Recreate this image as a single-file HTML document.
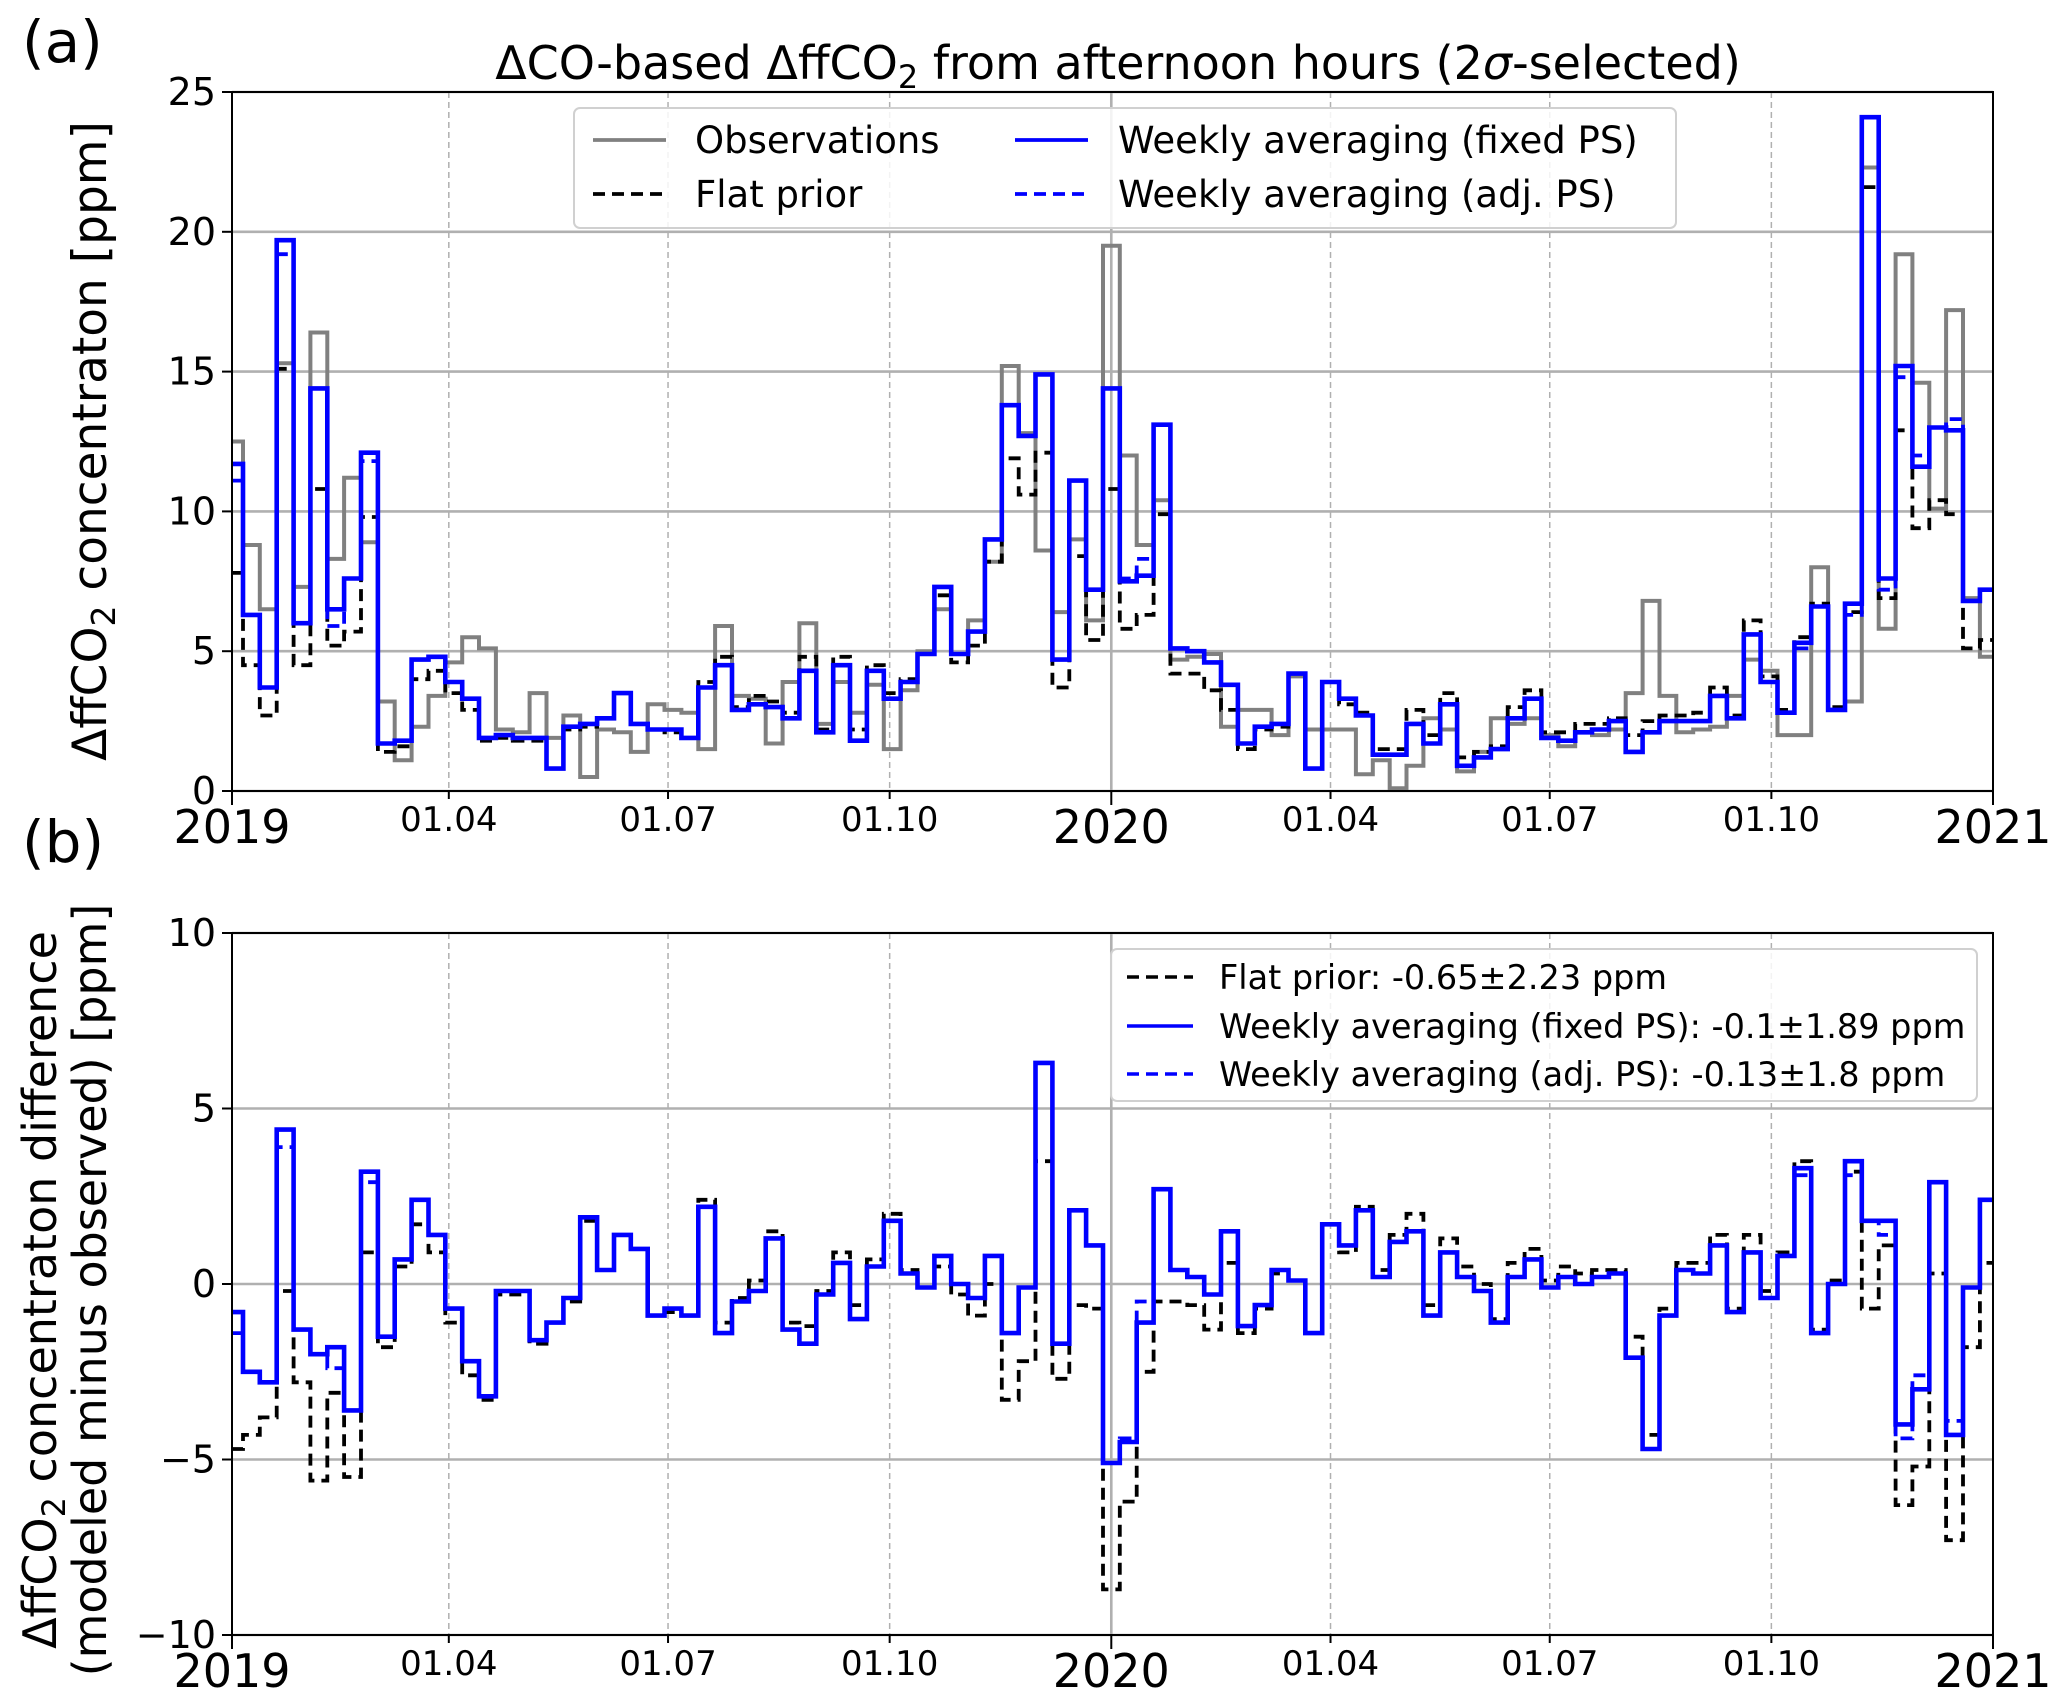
<!DOCTYPE html>
<html><head><meta charset="utf-8"><style>
body{margin:0;background:#fff}
svg{display:block;font-family:"DejaVu Sans","Liberation Sans",sans-serif}
</style></head><body>
<svg id="chart" width="2067" height="1695" viewBox="0 0 2067 1695" xmlns="http://www.w3.org/2000/svg"></svg>
<script>
// weekly bins (bin k spans week k-0.35 .. k+0.65 from 2019-01-01)
const observations = [12.5,8.8,6.5,15.3,7.3,16.4,8.3,11.2,8.9,3.2,1.1,2.3,3.4,4.6,5.5,5.1,2.2,2.1,3.5,1.9,2.7,0.5,2.2,2.1,1.4,3.1,2.9,2.8,1.5,5.9,3.4,3.3,1.7,3.9,6.0,2.4,3.9,2.8,3.8,1.5,3.6,5.0,6.5,4.9,6.1,8.2,15.2,12.8,8.6,6.4,9.0,6.1,19.5,12.0,8.8,10.4,4.7,4.8,4.9,2.3,2.9,2.9,2.0,4.1,2.2,2.2,2.2,0.6,1.1,0.1,0.9,2.6,2.2,0.7,1.4,2.6,2.4,2.6,2.0,1.6,2.1,2.0,2.2,3.5,6.8,3.4,2.1,2.2,2.3,3.4,4.7,4.3,2.0,2.0,8.0,2.9,3.2,22.3,5.8,19.2,14.6,10.1,17.2,6.9,4.8];
const flatPrior = [7.8,4.5,2.7,15.1,4.5,10.8,5.2,5.7,9.8,1.4,1.6,4.0,4.3,3.5,2.9,1.8,1.9,1.8,1.8,0.8,2.2,2.3,2.6,3.5,2.4,2.2,2.1,1.9,3.9,4.8,3.0,3.4,3.2,2.8,4.8,2.2,4.8,2.2,4.5,3.5,4.0,4.9,7.0,4.6,5.2,8.2,11.9,10.6,12.1,3.7,8.4,5.4,10.8,5.8,6.3,9.9,4.2,4.2,3.6,2.9,1.5,2.2,2.3,4.2,0.8,3.9,3.1,2.8,1.5,1.5,2.9,2.0,3.5,1.2,1.4,1.6,3.0,3.6,2.1,2.1,2.4,2.4,2.6,2.0,2.5,2.7,2.7,2.8,3.7,2.7,6.1,4.1,2.9,5.5,6.7,3.0,6.4,21.6,6.9,12.9,9.4,10.4,9.9,5.1,5.4];
const weeklyFixed = [11.7,6.3,3.7,19.7,6.0,14.4,6.5,7.6,12.1,1.7,1.8,4.7,4.8,3.9,3.3,1.9,2.0,1.9,1.9,0.8,2.3,2.4,2.6,3.5,2.4,2.2,2.2,1.9,3.7,4.5,2.9,3.1,3.0,2.6,4.3,2.1,4.5,1.8,4.3,3.3,3.9,4.9,7.3,4.9,5.7,9.0,13.8,12.7,14.9,4.7,11.1,7.2,14.4,7.5,7.7,13.1,5.1,5.0,4.6,3.8,1.7,2.3,2.4,4.2,0.8,3.9,3.3,2.7,1.3,1.3,2.4,1.7,3.1,0.9,1.2,1.5,2.6,3.3,1.9,1.8,2.1,2.2,2.5,1.4,2.1,2.5,2.5,2.5,3.4,2.6,5.6,3.9,2.8,5.3,6.6,2.9,6.7,24.1,7.6,15.2,11.6,13.0,12.9,6.8,7.2];
const weeklyAdj = [11.1,6.3,3.7,19.2,6.0,14.4,5.9,7.6,11.8,1.7,1.8,4.7,4.8,3.9,3.3,1.9,2.0,1.9,1.9,0.8,2.3,2.4,2.6,3.5,2.4,2.2,2.2,1.9,3.7,4.5,2.9,3.1,3.0,2.6,4.3,2.1,4.5,1.8,4.3,3.3,3.9,4.9,7.3,4.9,5.7,9.0,13.8,12.7,14.9,4.7,11.1,7.2,14.4,7.6,8.3,13.1,5.1,5.0,4.6,3.8,1.7,2.3,2.4,4.2,0.8,3.9,3.3,2.7,1.3,1.3,2.4,1.7,3.1,0.9,1.2,1.5,2.6,3.3,1.9,1.8,2.1,2.2,2.5,1.4,2.1,2.5,2.5,2.5,3.4,2.6,5.6,3.9,2.8,5.1,6.6,2.9,6.3,24.1,7.2,14.8,12.0,13.0,13.3,6.8,7.2];
const yTicksA = [0,5,10,15,20,25];
const yTicksB = [-10,-5,0,5,10];
const monthTicks = [90,181,273,456,547,639];
const monthLabels = ["01.04","01.07","01.10","01.04","01.07","01.10"];
const yearTicks = [0,365,731];
const yearLabels = ["2019","2020","2021"];

const svg = document.getElementById('chart');
const NS = 'http://www.w3.org/2000/svg';
const X0 = 232, X1 = 1993, TMAX = 731;
function x(d){ return X0 + (X1 - X0) * d / TMAX; }
const yA = v => 791 - (791 - 92) * v / 25;
const yB = v => 1635 - (1635 - 933) * (v + 10) / 20;
function el(tag, attrs, parent){ const e = document.createElementNS(NS, tag); for (const k in attrs) e.setAttribute(k, attrs[k]); (parent||svg).appendChild(e); return e; }
function txt(s, attrs){ const t = el('text', attrs); t.textContent = s; return t; }
function stepPath(vals, yf){
  let d = '';
  vals.forEach((v, k) => {
    const t0 = Math.max(0, (k - 0.35) * 7), t1 = Math.min(TMAX, (k + 0.65) * 7);
    if (t1 <= t0) return;
    d += (d ? 'L' : 'M') + x(t0).toFixed(1) + ' ' + yf(v).toFixed(1) + 'L' + x(t1).toFixed(1) + ' ' + yf(v).toFixed(1);
  });
  return d;
}

function panel(yf, top, bottom, ticks, series, pname){
  const g = el('g', {});
  
  
  ticks.forEach(v => {
    const gl = el('line', {x1:X0, x2:X1, y1:yf(v), y2:yf(v), stroke:'#b0b0b0', 'stroke-width':2.6}, g);
    
    
    const tk = el('line', {x1:X0-10, x2:X0, y1:yf(v), y2:yf(v), stroke:'#000', 'stroke-width':2}, g);
    
    
    const lab = txt(v < 0 ? '\u2212' + Math.abs(v) : String(v), {x:X0-16, y:yf(v)+13, 'text-anchor':'end', 'font-size':38});
    
    
  });
  monthTicks.forEach((d, i) => {
    const gl = el('line', {x1:x(d), x2:x(d), y1:top, y2:bottom, stroke:'#b0b0b0', 'stroke-width':1.5, 'stroke-dasharray':'6,4'}, g);
    
    
    const tk = el('line', {x1:x(d), x2:x(d), y1:bottom, y2:bottom+8, stroke:'#000', 'stroke-width':2}, g);
    
    
    const lab = txt(monthLabels[i], {x:x(d), y:bottom+40, 'text-anchor':'middle', 'font-size':34});
    
    
  });
  const mid = el('line', {x1:x(365), x2:x(365), y1:top, y2:bottom, stroke:'#b0b0b0', 'stroke-width':2.6}, g);
  
  
  yearTicks.forEach((d, i) => {
    const tk = el('line', {x1:x(d), x2:x(d), y1:bottom, y2:bottom+14, stroke:'#000', 'stroke-width':2}, g);
    
    
    const lab = txt(yearLabels[i], {x:x(d), y:bottom+52, 'text-anchor':'middle', 'font-size':46});
    
    
  });
  const clipId = pname + '-clip';
  const cp = el('clipPath', {id:clipId}, g);
  el('rect', {x:X0, y:top, width:X1-X0, height:bottom-top}, cp);
  series.forEach(s => {
    const p = el('path', {d:stepPath(s.vals, yf), fill:'none', stroke:s.color, 'stroke-width':s.w, 'stroke-dasharray':s.dash||'none', 'clip-path':'url(#'+clipId+')'}, g);
    
    
  });
  const fr = el('rect', {x:X0, y:top, width:X1-X0, height:bottom-top, fill:'none', stroke:'#000', 'stroke-width':2}, g);
  
  
}

panel(yA, 92, 791, yTicksA, [
  {vals:observations, color:'#808080', w:4, name:'observations-line'},
  {vals:flatPrior, color:'#000', w:3.8, dash:'12,7', name:'flat-prior-line'},
  {vals:weeklyFixed, color:'#0000ff', w:4.6, name:'weekly-fixed-line'},
  {vals:weeklyAdj, color:'#0000ff', w:3.8, dash:'12,7', name:'weekly-adj-line'}
], 'panel-a');

const diffFlat = flatPrior.map((v, i) => v - observations[i]);
const diffFixed = weeklyFixed.map((v, i) => v - observations[i]);
const diffAdj = weeklyAdj.map((v, i) => v - observations[i]);
panel(yB, 933, 1635, yTicksB, [
  {vals:diffFlat, color:'#000', w:3.8, dash:'12,7', name:'flat-prior-diff-line'},
  {vals:diffFixed, color:'#0000ff', w:4.6, name:'weekly-fixed-diff-line'},
  {vals:diffAdj, color:'#0000ff', w:3.8, dash:'12,7', name:'weekly-adj-diff-line'}
], 'panel-b');

// texts
let t;
t = txt('(a)', {x:22, y:62, 'font-size':58});  
t = txt('(b)', {x:22, y:862, 'font-size':58});  
t = el('text', {x:1118, y:79, 'text-anchor':'middle', 'font-size':46});
t.innerHTML = 'ΔCO-based ΔffCO<tspan font-size="32" dy="9">2</tspan><tspan dy="-9"> from afternoon hours (2</tspan><tspan font-style="italic">σ</tspan>-selected)';
 
t = el('text', {transform:'translate(106,441) rotate(-90)', 'text-anchor':'middle', 'font-size':47});
t.innerHTML = 'ΔffCO<tspan font-size="33" dy="9">2</tspan><tspan dy="-9"> concentraton [ppm]</tspan>';
 
t = el('text', {transform:'translate(56,1290) rotate(-90)', 'text-anchor':'middle', 'font-size':46});
t.innerHTML = 'ΔffCO<tspan font-size="32" dy="9">2</tspan><tspan dy="-9"> concentraton difference</tspan>';
 
t = txt('(modeled minus observed) [ppm]', {transform:'translate(106,1290) rotate(-90)', 'text-anchor':'middle', 'font-size':46});
 

// legend a
const la = el('g', {});  
el('rect', {x:574, y:108, width:1102, height:120, rx:6, fill:'#fff', 'fill-opacity':0.85, stroke:'#d0d0d0', 'stroke-width':2}, la);
[
 {lx:593, tx:695, y:140, label:'Observations', c:'#808080', dash:'none', name:'legend-observations'},
 {lx:593, tx:695, y:194, label:'Flat prior', c:'#000', dash:'12,7', name:'legend-flat-prior'},
 {lx:1015, tx:1118, y:140, label:'Weekly averaging (fixed PS)', c:'#0000ff', dash:'none', name:'legend-weekly-fixed'},
 {lx:1015, tx:1118, y:194, label:'Weekly averaging (adj. PS)', c:'#0000ff', dash:'12,7', name:'legend-weekly-adj'}
].forEach(e => {
  const g = el('g', {}, la);  
  el('line', {x1:e.lx, x2:e.lx+73, y1:e.y, y2:e.y, stroke:e.c, 'stroke-width':3.8, 'stroke-dasharray':e.dash}, g);
  const tt = el('text', {x:e.tx, y:e.y+13, 'font-size':37}, g); tt.textContent = e.label;
});
// legend b
const lb = el('g', {});  
el('rect', {x:1111, y:949, width:866, height:152, rx:6, fill:'#fff', 'fill-opacity':0.85, stroke:'#d0d0d0', 'stroke-width':2}, lb);
[
 {y:977, label:'Flat prior: -0.65±2.23 ppm', c:'#000', dash:'12,7', name:'legend-b-flat-prior'},
 {y:1026, label:'Weekly averaging (fixed PS): -0.1±1.89 ppm', c:'#0000ff', dash:'none', name:'legend-b-weekly-fixed'},
 {y:1074, label:'Weekly averaging (adj. PS): -0.13±1.8 ppm', c:'#0000ff', dash:'12,7', name:'legend-b-weekly-adj'}
].forEach(e => {
  const g = el('g', {}, lb);  
  el('line', {x1:1127, x2:1193, y1:e.y, y2:e.y, stroke:e.c, 'stroke-width':3.6, 'stroke-dasharray':e.dash}, g);
  const tt = el('text', {x:1219, y:e.y+12, 'font-size':33.5}, g); tt.textContent = e.label;
});
</script>
</body></html>
